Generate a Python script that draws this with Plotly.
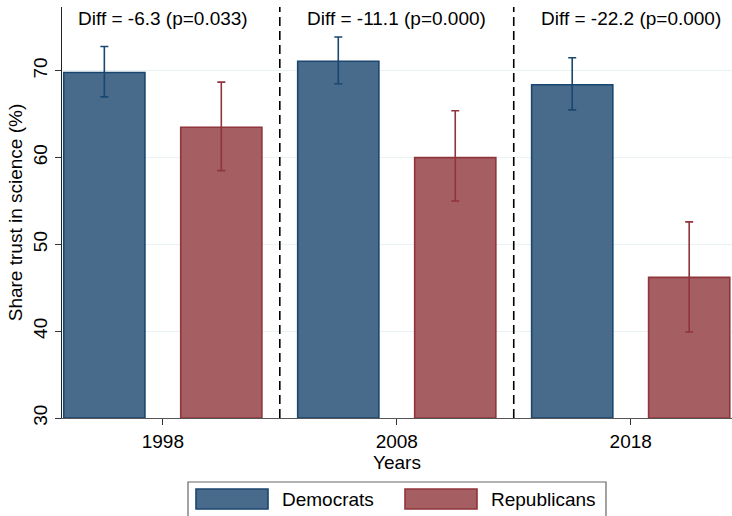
import plotly.graph_objects as go

years = ["1998", "2008", "2018"]
dem = [69.8, 71.1, 68.4]
dem_hi = [72.8, 73.9, 71.5]
dem_lo = [67.0, 68.5, 65.5]
rep = [63.5, 60.0, 46.2]
rep_hi = [68.7, 65.4, 52.6]
rep_lo = [58.5, 55.0, 39.9]
pvals = ["0.033", "0.000", "0.000"]
y_ticks = [30, 40, 50, 60, 70]

BASE = 30
FONT = "Liberation Sans, Arial, sans-serif"
FS = 19
DEM_FILL, DEM_LINE = "#486a8b", "#1a476f"
REP_FILL, REP_LINE = "#a55e61", "#90353b"

W, H = 732, 516
ML, MR, MT, MB = 62, 0, 7, 98
PW, PH = W - ML - MR, H - MT - MB


def px(xp):
    return (xp - ML) / PW


def py(yp):
    return (H - MB - yp) / PH


fig = go.Figure()
fig.add_trace(go.Bar(
    x=years, y=[v - BASE for v in dem], base=BASE, name="Democrats",
    marker=dict(color=DEM_FILL, line=dict(color=DEM_LINE, width=1.6)),
    error_y=dict(type="data", symmetric=False,
                 array=[h - v for h, v in zip(dem_hi, dem)],
                 arrayminus=[v - l for v, l in zip(dem, dem_lo)],
                 color=DEM_LINE, thickness=1.6, width=4),
    showlegend=False,
))
fig.add_trace(go.Bar(
    x=years, y=[v - BASE for v in rep], base=BASE, name="Republicans",
    marker=dict(color=REP_FILL, line=dict(color=REP_LINE, width=1.6)),
    error_y=dict(type="data", symmetric=False,
                 array=[h - v for h, v in zip(rep_hi, rep)],
                 arrayminus=[v - l for v, l in zip(rep, rep_lo)],
                 color=REP_LINE, thickness=1.6, width=4),
    showlegend=False,
))

# separators between year groups
for i in range(len(years) - 1):
    fig.add_shape(type="line", xref="x", yref="paper", x0=i + 0.5, x1=i + 0.5,
                  y0=0, y1=1, line=dict(color="black", width=1.6, dash="9px,5px"))

# diff annotations
for i, y in enumerate(years):
    d = rep[i] - dem[i]
    fig.add_annotation(x=i, xref="x", y=py(19), yref="paper",
                       text=f"Diff = {d:.1f} (p={pvals[i]})", showarrow=False,
                       font=dict(size=FS, color="black", family=FONT),
                       xanchor="center", yanchor="middle")

# custom legend
fig.add_shape(type="rect", xref="paper", yref="paper",
              x0=px(188), x1=px(606), y0=py(482), y1=py(540),
              line=dict(color="#666666", width=1.2), fillcolor="white", layer="above")
for (x0, x1, tx, name, fill, line) in [
    (196, 268, 280, "Democrats", DEM_FILL, DEM_LINE),
    (405, 477, 489, "Republicans", REP_FILL, REP_LINE),
]:
    fig.add_shape(type="rect", xref="paper", yref="paper",
                  x0=px(x0), x1=px(x1), y0=py(489), y1=py(509),
                  line=dict(color=line, width=1.6), fillcolor=fill, layer="above")
    fig.add_annotation(x=px(tx), xref="paper", y=py(499), yref="paper",
                       text=name, showarrow=False, xanchor="left", yanchor="middle",
                       font=dict(size=FS, color="black", family=FONT))

fig.update_layout(
    width=W, height=H,
    margin=dict(l=ML, r=MR, t=MT, b=MB, autoexpand=False),
    paper_bgcolor="white", plot_bgcolor="white",
    barmode="group", bargap=0.0, bargroupgap=0.306,
    font=dict(family=FONT, size=FS, color="black"),
    xaxis=dict(type="category", range=[-0.431, 2.433],
               showline=True, linecolor="#555555", linewidth=1.2,
               ticks="outside", ticklen=6, tickcolor="#333333",
               tickfont=dict(size=FS, color="black"),
               title=dict(text="Years", font=dict(size=FS, color="black"), standoff=0),
               showgrid=False, zeroline=False),
    yaxis=dict(range=[BASE, BASE + PH / 8.68], tickvals=y_ticks,
               showline=True, linecolor="#222222", linewidth=1.2,
               ticks="outside", ticklen=6, tickcolor="#333333", tickangle=-90,
               tickfont=dict(size=FS, color="black"),
               gridcolor="#eaf2f3", gridwidth=1, zeroline=False,
               title=dict(text="Share trust in science (%)",
                          font=dict(size=FS, color="black"), standoff=2)),
)

fig.write_html("out.html", config={"displayModeBar": False},
               post_script="document.body.style.margin='0';")
